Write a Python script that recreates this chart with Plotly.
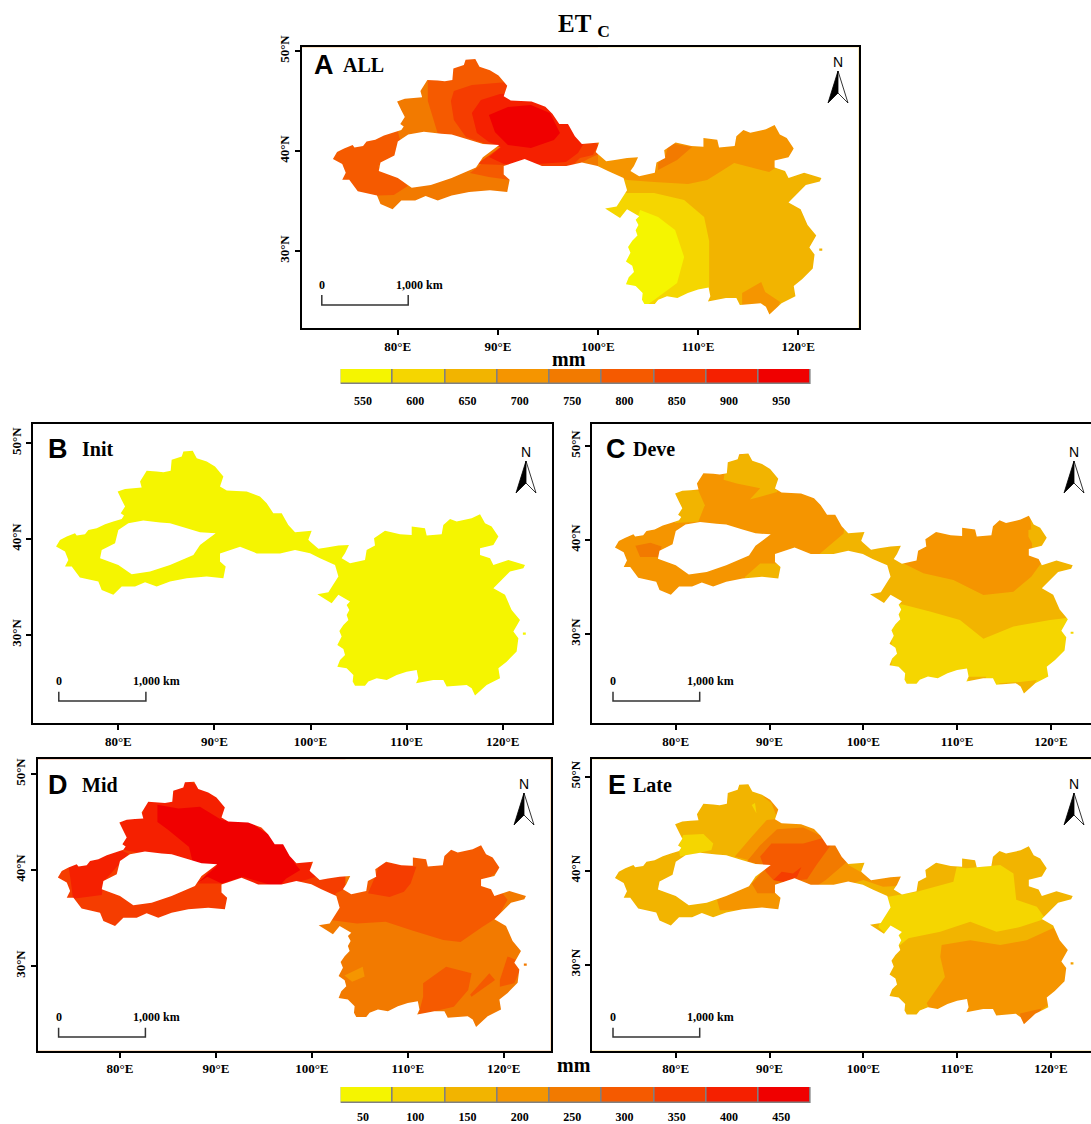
import plotly.graph_objects as go

W, H = 1091, 1124

CLASS_COLORS = ['#F5F500', '#F5D600', '#F2B400', '#F59500', '#F27A00', '#F55A00', '#F53D00', '#F52000', '#F00000']
CLASS_LABELS_TOP = [550, 600, 650, 700, 750, 800, 850, 900, 950]
CLASS_LABELS_BOTTOM = [50, 100, 150, 200, 250, 300, 350, 400, 450]

OUTLINE = [
(73.52,39.21),(73.93,39.9),(74.63,40.25),(75.49,40.6),(75.67,40.36),(76.53,40.5),(76.88,40.95),(77.75,41.12),
(78.62,41.54),(79.48,41.82),(80.35,42.1),(80.59,42.45),(80.25,42.69),(80.7,43.39),(80.35,44.08),(79.93,44.95),
(80.7,45.23),(81.56,45.3),(82.43,45.37),(82.26,46),(82.95,47.11),(84,47.04),(84.69,46.97),(85.45,47.11),
(85.55,48.26),(86.6,48.6),(86.77,49.13),(87.74,49.2),(88.16,48.43),(89.2,48.08),(90.06,47.56),(90.93,46.52),
(90.58,45.47),(91.28,45.06),(93.36,44.95),(94.74,44.43),(95.44,43.73),(96.13,42.69),(97,42.69),(97.69,41.47),
(98.39,40.71),(100.12,40.85),(99.77,39.91),(99.95,39.73),(100.82,38.97),(101.68,39.11),(102.9,39.31),(104,39.38),
(103.59,38.51),(103.24,37.99),(104.11,37.47),(105.67,37.82),(105.84,38.86),(106.71,39.31),(106.61,40.08),(107.75,40.85),
(109.31,40.5),(110.53,40.43),(110.53,41.3),(111.91,41.12),(112.09,40.36),(113.65,40.5),(113.82,41.47),(114.52,42.1),
(115.21,41.82),(116.77,42.17),(117.64,42.59),(118.16,41.65),(118.85,41.3),(119.55,40.25),(119.03,39.38),(117.64,39.04),
(117.64,38.34),(118.68,37.99),(119.03,37.3),(120.59,37.82),(122.32,37.3),(122.15,36.95),(120.76,36.6),(119.03,34.86),
(120.24,34.17),(120.93,32.6),(121.8,31.56),(121.11,30.34),(121.63,29.64),(121.45,28.25),(120.41,27.2),(119.55,26.51),
(119.72,25.47),(118.33,24.77),(117.12,23.66),(116.77,24.42),(116.25,24.77),(114.17,24.6),(113.82,25.29),(112.78,25.29),
(110.98,24.95),(111.22,25.47),(111.05,26.34),(110,26.16),(108.97,25.81),(107.93,25.29),(106.89,25.47),(106.02,25.12),
(105.67,24.7),(104.63,24.7),(104.39,25.12),(104.46,25.81),(103.76,26.51),(102.79,26.68),(103.07,27.38),(103.59,27.9),
(103.42,28.53),(102.79,28.95),(103.24,29.82),(103,30.41),(103.42,31.03),(103.94,31.56),(103.76,32.08),(104.04,32.6),
(103.76,33.12),(104.11,33.47),(102.9,34.17),(102.2,33.3),(100.71,34.24),(101.86,34.44),
(102.9,36.08),(102.55,37.3),(100.99,37.99),(99.95,38.51),(98.39,38.86),(96.83,38.5),(94.4,38.5),(92.67,39.2),
(90.58,38.5),(90.58,37.65),(91.17,37.12),(90.93,35.9),(89.2,36.08),(87.12,35.9),(85.38,35.56),(83.99,35.04),
(82.78,35.49),(81.74,35.04),(80.35,35.04),(79.48,34.17),(78.27,34.69),(77.92,35.56),(76.0,35.98),(75.15,37.12),
(74.45,37.12),(74.8,37.82),(74.45,38.69),
]
COAST_ISLET = [(122.1,30.25),(122.4,30.25),(122.4,30.02),(122.1,30.02)]
BASIN_HOLE = [
(90.13,40.6),(88.5,39.38),(87.81,38.34),(85.38,37.3),(83.3,36.6),(81.39,36.32),(80,37.3),(78.1,38),(78.27,38.86),
(79.66,39.56),(80,40.95),(81.04,41.65),(82.6,41.92),(84.34,41.72),(85.38,41.65),(87.12,41.12),(88.5,40.71),
]
FULL = [(60,10),(135,10),(135,60),(60,60)]

ZONES_A = [
 (650, FULL),
 (750, [(70,30),(70,55),(100,55),(100,30)]),
 (800, [(73,40.5),(76,41.5),(80,42),(80.5,40),(78,38.5),(80,37.5),(81,36.5),(79.6,35.6),(76.5,35.5),(74.5,37),(73,39)]),
 (800, [(83,50),(83,45),(84,41.7),(90.2,40.4),(88,38.4),(87.2,37.8),(89.1,37.4),(91.2,37.1),(90.6,38.4),(97,38),(99,39.2),(100.3,39.8),(100.3,41),(98,42),(98,50)]),
 (850, [(91,46.9),(87.4,46.6),(85.6,46),(85.3,45),(85.6,43.1),(86.8,41.4),(89.1,40.6),(90.3,40.4),(87.9,38.7),(90.6,38.6),(97.1,38.2),(98.2,39.3),(99.5,39.6),(100,40.6),(98.5,42),(97,46)]),
 (900, [(90.2,45.7),(88.3,45.1),(87.4,43.8),(87.9,41.8),(89.1,40.9),(90.3,40.4),(89.1,39.4),(90.6,38.7),(94,38.7),(96.8,38.9),(98,39.8),(98.6,40.8),(97.8,42.6),(96,44),(95,46)]),
 (950, [(89.1,43.6),(91,44.4),(93.3,44.6),(95.2,43.8),(96.2,41.8),(95.6,41.1),(93.3,40.3),(91,40.6),(89.7,41.9)]),
 (700, [(100,38),(102.9,37.1),(105.6,36.9),(109,36.7),(110.9,37.1),(112.5,38.1),(113.6,38.8),(117.1,37.9),(119.4,39.4),(120,44),(100,44)]),
 (750, [(106,38.8),(106.7,39.4),(107.1,40.8),(109.4,40.4),(107.9,39.1),(106,38.1)]),
 (600, [(100,34),(101.9,35.8),(105.6,35.8),(108.6,35.1),(110.6,33.4),(111.1,31),(111.1,25.5),(109,24.5),(105,23),(101,23),(101,33)]),
 (550, [(104.2,34.1),(106,33.4),(107.7,32.1),(108.6,29.4),(107.9,26.8),(105.6,25.1),(104,24),(102,24),(102,32),(104,33.5)]),
 (700, [(114.4,25.8),(116.3,26.9),(116.7,25.9),(118.2,24.9),(117.5,23.4),(114.4,24.6)]),
]
ZONES_B = [(550, FULL)]
ZONES_C = [
 (650, FULL),
 (700, [(70,30),(70,55),(99,55),(97.9,40.7),(95.2,38.4),(95,30)]),
 (650, [(79.5,45.4),(82.4,45.3),(83.1,43.7),(82.4,41.95),(79.9,41.8)]),
 (650, [(85.4,48.5),(87.9,49.4),(91.3,46.7),(90.8,45.1),(87.9,44.3),(89,45.5),(86.5,46),(85.1,46.4)]),
 (650, [(87.4,36.1),(89,37.5),(91.5,37.5),(91.5,35.5),(87.2,35.5)]),
 (750, [(75.7,39.4),(77.3,39.7),(78.5,39.3),(78.2,38.2),(76.2,38.2)]),
 (700, [(104.3,37.5),(106.4,36.45),(109.6,35.74),(112.8,34.15),(116,34.5),(117.9,36.1),(119.2,37.87),(118,39.1),(117.8,42.8),(106,42.8),(104.3,39.3)]),
 (650, [(117.6,41.06),(119.2,41.4),(119.9,40),(118.3,39.1),(117.6,40.35)]),
 (600, [(103,33.3),(104.3,33.1),(107.1,32.4),(110.3,31.5),(112.8,29.5),(116,30.8),(119.9,31.5),(123,31.85),(123,27),(118,23),(103,23)]),
 (650, [(111.2,25.46),(113.1,25.46),(112.8,24.6),(111.2,24.6)]),
 (650, [(114.4,24.75),(116.7,24.9),(118.5,25.1),(117.5,23.5),(116.6,23.7)]),
]
ZONES_D = [
 (750, FULL),
 (850, [(70,33),(70,55),(103.5,55),(103.5,37),(102,35),(95,33)]),
 (900, [(74.56,41),(80,42.1),(80.9,41.7),(78.3,38.8),(78.1,37.4),(75.1,37),(74.9,38.6)]),
 (900, [(80,45.2),(82.4,45.9),(82.75,47.5),(85.4,47.3),(85.7,48.7),(86.85,49.4),(88.34,48.7),(91.1,46.8),(90.76,45),(99.5,41.5),(100.4,39.3),(99.5,39),(96.5,38.2),(90.6,38.6),(88.2,38.6),(89.8,40.5),(87.6,40.7),(80.3,42.1)]),
 (950, [(83.9,46.8),(86.1,46.4),(88.34,46.6),(90.6,45.2),(93.56,45),(95.8,43.5),(97.5,42.6),(98.2,40.7),(98.8,40),(97.3,39.1),(96.5,38.2),(92.8,39.3),(90.6,38.6),(89.1,39.3),(88,38.6),(90.2,40.5),(87.6,40.7),(87.2,42.4),(85,44.2),(83.9,45)]),
 (800, [(102.5,37.57),(101.94,34.8),(104.7,34.44),(107.7,34.6),(110.3,33.75),(113.7,32.7),(115.5,32.5),(117.8,34.1),(119.4,35.1),(120.4,36.9),(119.6,37.9),(117.8,38.6),(120.4,40.7),(118.5,42.8),(106.6,42.8),(104.7,38.6)]),
 (850, [(105.85,37.57),(106.6,39.3),(107.15,40.87),(110.9,40.35),(110.3,38.6),(109.6,37.74),(108.1,37.2)]),
 (800, [(111.6,28.2),(114,29.93),(116.65,29.24),(116.3,27.5),(114.8,25.76),(111.1,24.9),(111.6,26.8)]),
 (800, [(116.5,27),(118.5,29.24),(119.1,28.54),(116.65,26.8)]),
 (800, [(119.6,28.54),(120.4,31),(122.05,30.3),(121.1,28.2),(119.6,27.85)]),
 (700, [(103.4,29),(105.3,29.93),(105.5,28.9),(104.2,28.37)]),
]
ZONES_E = [
 (650, FULL),
 (600, [(80.3,42.55),(80.8,43.8),(82.95,43.9),(84,42.9),(83.8,42.2),(82.2,41.84),(80.46,41.5)]),
 (700, [(86.3,41.5),(88.1,43.6),(89.7,45.4),(91.5,45.57),(94.3,45),(96.1,43.4),(97.5,42.7),(98.4,40.6),(100,39.7),(104.3,39.5),(104.1,38.4),(102.1,38.3),(100,39),(97.16,38.1),(90.76,38.5),(91.5,37.6),(91.5,35.8),(84.7,35.8),(84.4,36.9),(88.1,38.65),(89.7,40.6)]),
 (700, [(89.3,47.9),(90.4,47.7),(91.1,46.6),(90.9,45.4),(90.2,47.2)]),
 (600, [(88.1,47),(88.45,47.2),(88.6,46.1)]),
 (750, [(87.6,41),(89,42.7),(90.8,44.4),(93.6,44.6),(95.7,43.6),(97.3,42.6),(98.2,40.9),(96,39),(94.9,38.3),(93.5,38.8),(90.76,38.5),(90.76,37.6),(88.7,37.6),(88.1,38.65),(89.7,40.4)]),
 (800, [(89,41.5),(90.2,42.9),(93.6,42.9),(95.8,43.5),(96.6,42.8),(95,40.6),(94,39.1),(91.5,38.8),(90.4,39),(89.6,39.9)]),
 (850, [(91.3,39.9),(92.5,39.7),(93.4,40.4),(92.9,39.3),(91.5,38.8),(90.4,39)]),
 (600, [(101.6,34),(102.5,37.2),(105.7,37.77),(109.6,38.83),(109.95,40.4),(111,40.25),(114.6,40.6),(116,39.7),(116.3,36.9),(118.5,36.17),(119.4,34.9),(116.7,34),(114.2,33.5),(111.4,34.57),(108.2,33.5),(104.8,32.8),(103.7,31.9)]),
 (700, [(108.35,32.1),(111.4,32.6),(114.6,32.1),(117.4,32.6),(120.25,33.9),(122,31.6),(122.7,28),(118.5,24.8),(117.05,23.4),(107.1,25.2),(106.75,25.9),(108.7,28.7),(108.2,30.85)]),
 (750, [(116.7,24.8),(119,25.35),(118.5,24.5),(117.4,23.6),(116.85,23.8)]),
]

TICK_LON = [80, 90, 100, 110, 120]
TICK_LAT = [30, 40, 50]

PANELS = [
 dict(key='A', label='ALL', zones=ZONES_A, frame=(301.5, 47.3, 858.5, 328.3), lon=(70.38, 126.02), lat=(22.27, 50.37), right=True,
      letter=(323.5, 65), text=341, north=(838, 62), bar=(321.8, 408.2, 295, 305)),
 dict(key='B', label='Init', zones=ZONES_B, frame=(33, 424, 552, 723), lon=(71.12, 125.13), lat=(20.8, 52.0), right=True,
      letter=(58, 449), text=80, north=(526, 452), bar=(58.8, 145.9, 691.7, 701)),
 dict(key='C', label='Deve', zones=ZONES_C, frame=(591.7, 424, 1091, 723), lon=(71.04, 124.27), lat=(20.53, 52.34), right=False,
      letter=(616, 449), text=631, north=(1074, 452), bar=(613, 699.7, 691.7, 701)),
 dict(key='D', label='Mid', zones=ZONES_D, frame=(37.5, 759.3, 550.7, 1050.7), lon=(71.4, 124.9), lat=(21.18, 51.53), right=True,
      letter=(58, 785), text=80, north=(524, 784), bar=(58.6, 145.4, 1027.7, 1037)),
 dict(key='E', label='Late', zones=ZONES_E, frame=(591.7, 759.3, 1091, 1050.7), lon=(71.04, 124.27), lat=(20.85, 51.85), right=False,
      letter=(617, 785), text=631, north=(1074, 784), bar=(613, 699.7, 1027.7, 1037)),
]

SERIF = 'Liberation Serif'
SANS = 'Liberation Sans'

def fx(x):
    return x / W

def fy(y):
    return 1 - y / H

def color_of(v):
    idx = (v - 550) // 50 if v >= 550 else (v - 50) // 50
    return CLASS_COLORS[idx]

fig = go.Figure()
layout = dict(width=W, height=H, autosize=False, margin=dict(l=0, r=0, t=0, b=0, pad=0), showlegend=False,
              paper_bgcolor='white', plot_bgcolor='white', bargap=0)
shapes, annotations = [], []

def note(text, x, y, size, family=SERIF, anchor='center', bold=True):
    annotations.append(dict(text=f'<b>{text}</b>' if bold else text, x=fx(x), y=fy(y), xref='paper', yref='paper',
                            showarrow=False, xanchor=anchor, yanchor='middle',
                            font=dict(family=family, size=size, color='black')))

for i, p in enumerate(PANELS, start=1):
    sx = '' if i == 1 else str(i)
    xn, yn = f'x{sx}', f'y{sx}'
    for v, poly in p['zones']:
        fig.add_trace(go.Scatter(x=[c[0] for c in poly] + [poly[0][0]], y=[c[1] for c in poly] + [poly[0][1]],
                                 mode='lines', fill='toself', fillcolor=color_of(v), line=dict(width=0, simplify=False),
                                 hoverinfo='skip', xaxis=xn, yaxis=yn))
    # everything outside the basin boundary is white
    mx, my = [], []
    for ring in (FULL, OUTLINE, COAST_ISLET):
        mx += [c[0] for c in ring] + [ring[0][0], None]
        my += [c[1] for c in ring] + [ring[0][1], None]
    fig.add_trace(go.Scatter(x=mx[:-1], y=my[:-1], mode='lines', fill='toself', fillcolor='white',
                             line=dict(width=0, simplify=False), hoverinfo='skip', xaxis=xn, yaxis=yn))
    fig.add_trace(go.Scatter(x=[c[0] for c in BASIN_HOLE] + [BASIN_HOLE[0][0]], y=[c[1] for c in BASIN_HOLE] + [BASIN_HOLE[0][1]],
                             mode='lines', fill='toself', fillcolor='white', line=dict(width=0, simplify=False),
                             hoverinfo='skip', xaxis=xn, yaxis=yn))
    x0, y0, x1, y1 = p['frame']
    tickfont = dict(family=SERIF, size=13, color='black')
    layout[f'xaxis{sx}'] = dict(domain=[fx(x0), fx(x1)], range=list(p['lon']), anchor=yn, showgrid=False, zeroline=False,
                                automargin=False, showline=True, linecolor='black', linewidth=2, mirror=True, ticks='outside', ticklen=5,
                                tickwidth=1.5, tickcolor='black', tickvals=TICK_LON,
                                ticktext=[f'<b>{v}°E</b>' for v in TICK_LON], tickfont=tickfont, tickangle=0)
    layout[f'yaxis{sx}'] = dict(domain=[fy(y1), fy(y0)], range=list(p['lat']), anchor=xn, showgrid=False, zeroline=False,
                                automargin=False, showline=True, linecolor='black', linewidth=2, mirror=p['right'], ticks='outside', ticklen=5,
                                tickwidth=1.5, tickcolor='black', tickvals=TICK_LAT,
                                ticktext=[f'<b>{v}°N</b>' for v in TICK_LAT], tickfont=tickfont, tickangle=-90)
    note(p['key'], p['letter'][0], p['letter'][1], 27, family=SANS)
    note(p['label'], p['text'], p['letter'][1] - 0.5, 20, anchor='left')
    nx, ny = p['north']
    note('N', nx, ny, 14, family=SANS, bold=False)
    tip, base, notch = ny + 9, ny + 41, ny + 31
    shapes.append(dict(type='path', xref='paper', yref='paper', fillcolor='black', line=dict(color='black', width=0.8),
                       path=f'M {fx(nx)} {fy(tip)} L {fx(nx-10)} {fy(base)} L {fx(nx)} {fy(notch)} Z'))
    shapes.append(dict(type='path', xref='paper', yref='paper', fillcolor='white', line=dict(color='black', width=0.8),
                       path=f'M {fx(nx)} {fy(tip)} L {fx(nx+10)} {fy(base)} L {fx(nx)} {fy(notch)} Z'))
    bl, br, bt, bb = p['bar']
    shapes.append(dict(type='path', xref='paper', yref='paper', line=dict(color='#333333', width=1.5),
                       path=f'M {fx(bl)} {fy(bt)} L {fx(bl)} {fy(bb)} L {fx(br)} {fy(bb)} L {fx(br)} {fy(bt)}'))
    note('0', bl, bt - 10.5, 12)
    note('1,000 km', br + 11, bt - 10.5, 12)

# colour keys
KEYS = [(6, CLASS_LABELS_TOP, (340.6, 369, 811, 384), 8), (7, CLASS_LABELS_BOTTOM, (340.6, 1087, 811, 1103), 5)]
for n, vals, (x0, y0, x1, y1), standoff in KEYS:
    fig.add_trace(go.Bar(x=vals, y=[1] * len(vals), width=50, marker=dict(color=CLASS_COLORS, line=dict(color='#808080', width=1.5)),
                         hoverinfo='skip', xaxis=f'x{n}', yaxis=f'y{n}'))
    layout[f'xaxis{n}'] = dict(domain=[fx(x0), fx(x1)], range=[vals[0] - 25, vals[-1] + 25], anchor=f'y{n}', showgrid=False,
                               automargin=False, zeroline=False, showline=False, ticks='', ticklabelstandoff=standoff,
                               tickvals=[v - 3.5 for v in vals], ticktext=[f'<b>{v}</b>' for v in vals],
                               tickfont=dict(family=SERIF, size=12, color='black'), tickangle=0)
    layout[f'yaxis{n}'] = dict(domain=[fy(y1), fy(y0)], range=[0, 1], anchor=f'x{n}', visible=False, automargin=False)

note('ET <sub>C</sub>', 584, 26, 25)
note('mm', 569, 359, 20)
note('mm', 574, 1065, 20)

layout['shapes'] = shapes
layout['annotations'] = annotations
fig.update_layout(**layout)
fig.write_html('out.html', config=dict(displayModeBar=False),
               post_script="document.body.style.margin='0';document.documentElement.style.overflow='hidden';")
